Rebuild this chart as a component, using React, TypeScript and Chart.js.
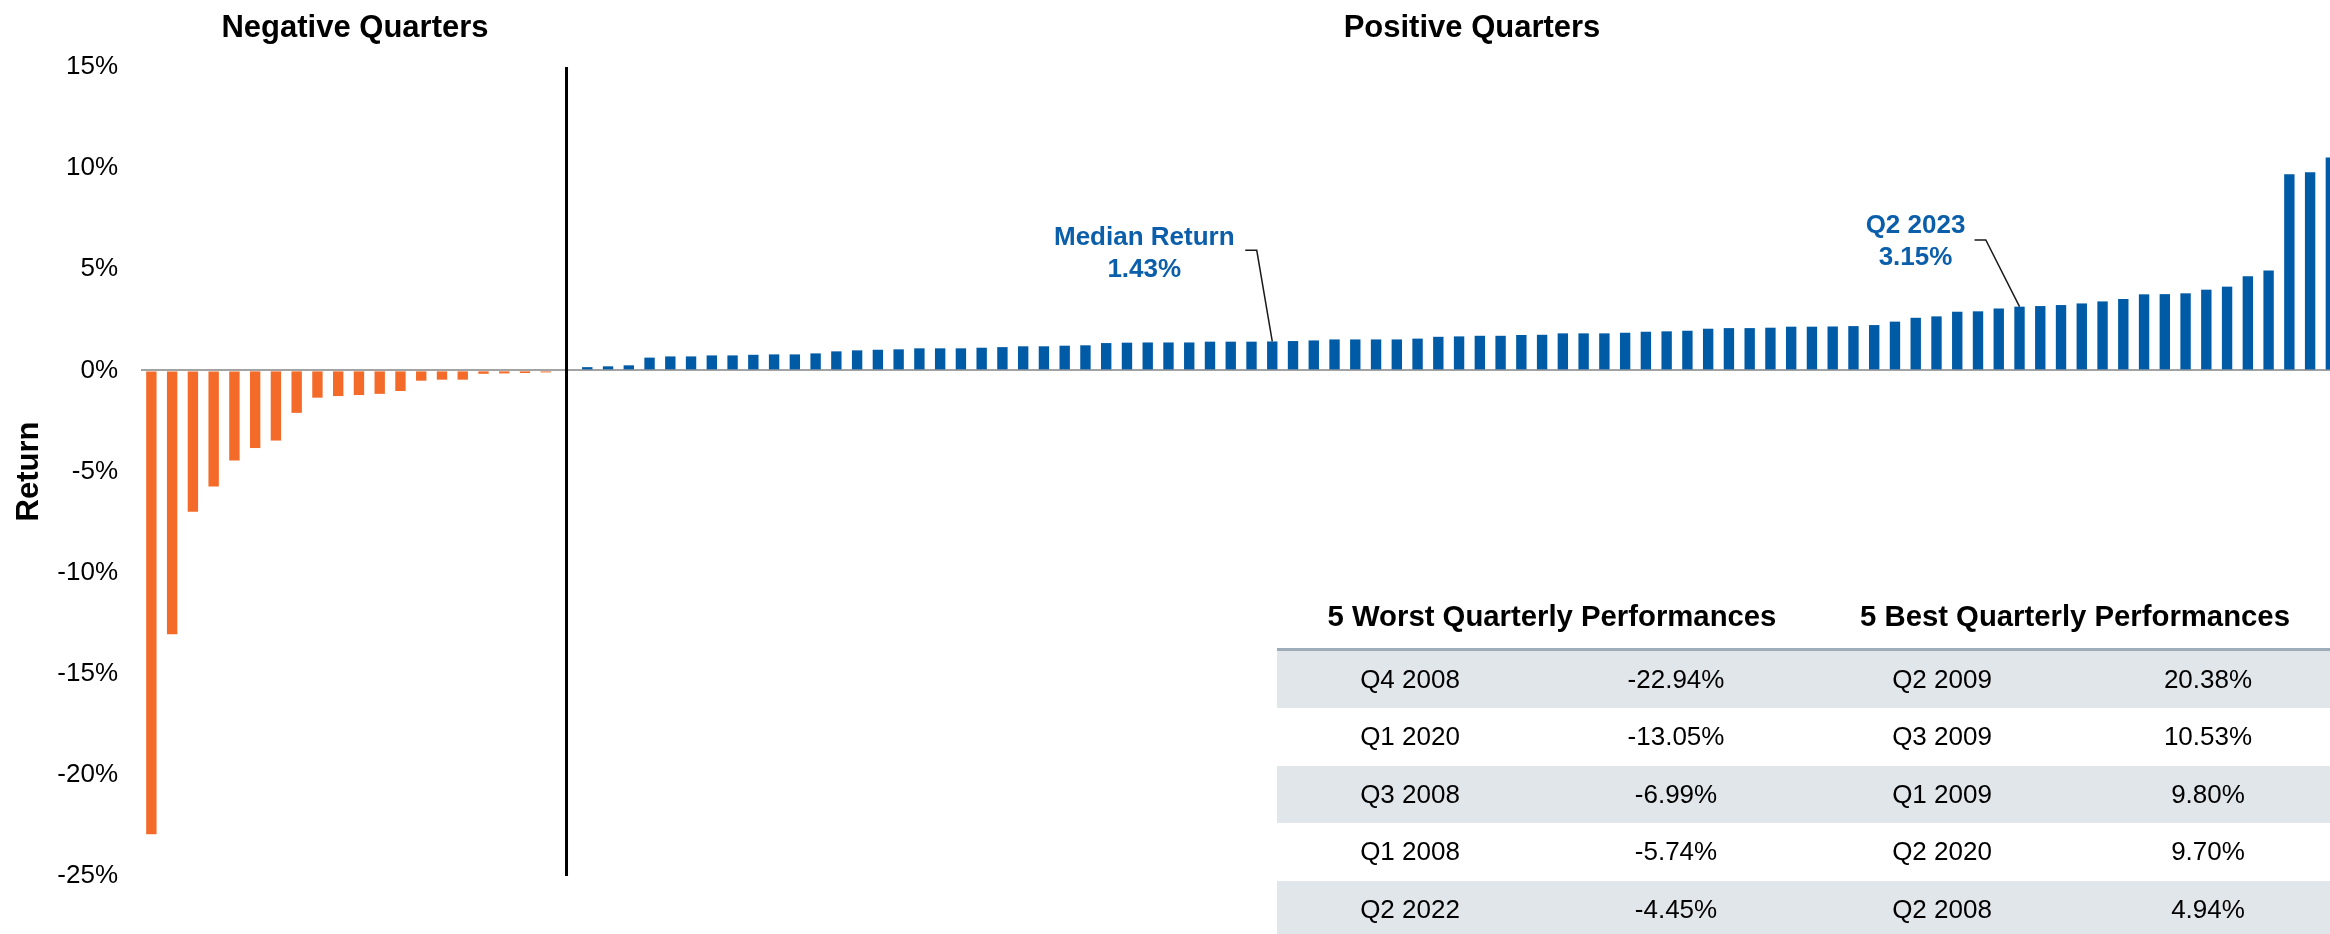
import React, { useEffect, useRef } from 'react';
import { Chart, registerables } from 'chart.js';

Chart.register(...registerables);

// ---- Data ----
const negativeReturns = [
  -22.94, -13.05, -6.99, -5.74, -4.45, -3.84, -3.47, -2.1, -1.35, -1.27,
  -1.22, -1.16, -1.02, -0.51, -0.46, -0.46, -0.17, -0.15, -0.13, -0.1,
];

const positiveReturns = [
  0.16, 0.2, 0.25, 0.63, 0.69, 0.69, 0.74, 0.74, 0.77, 0.79,
  0.79, 0.84, 0.94, 0.99, 1.02, 1.04, 1.09, 1.09, 1.09, 1.12,
  1.15, 1.19, 1.19, 1.22, 1.24, 1.35, 1.37, 1.38, 1.38, 1.38,
  1.42, 1.42, 1.42, 1.43, 1.45, 1.48, 1.53, 1.53, 1.53, 1.53,
  1.57, 1.66, 1.68, 1.71, 1.71, 1.75, 1.76, 1.83, 1.83, 1.83,
  1.86, 1.91, 1.93, 1.96, 2.06, 2.09, 2.09, 2.11, 2.16, 2.16,
  2.17, 2.19, 2.24, 2.41, 2.6, 2.67, 2.9, 2.92, 3.06, 3.15,
  3.18, 3.23, 3.31, 3.41, 3.53, 3.76, 3.77, 3.81, 3.99, 4.14,
  4.65, 4.94, 9.7, 9.8, 10.53, 20.38,
];

const negativeLabels = negativeReturns.map((_, i) => `Negative quarter ${i + 1}`);
const positiveLabels = positiveReturns.map((_, i) => `Positive quarter ${i + 1}`);
const categories = [...negativeLabels, '', ...positiveLabels];

const yTickValues = [-25, -20, -15, -10, -5, 0, 5, 10, 15];

const worstQuarters = ['Q4 2008', 'Q1 2020', 'Q3 2008', 'Q1 2008', 'Q2 2022'];
const worstReturns = ['-22.94%', '-13.05%', '-6.99%', '-5.74%', '-4.45%'];
const bestQuarters = ['Q2 2009', 'Q3 2009', 'Q1 2009', 'Q2 2020', 'Q2 2008'];
const bestReturns = ['20.38%', '10.53%', '9.80%', '9.70%', '4.94%'];

const calloutTitles = ['Median Return', 'Q2 2023'];
const calloutValues = [1.43, 3.15];

// ---- Styles ----
const FONT = '"Liberation Sans", Arial, Helvetica, sans-serif';
const ORANGE = '#F36A29';
const BLUE = '#005BA6';
const CALLOUT_BLUE = '#0B5EAA';

const calloutStyle = [
  { textDx: -128, line1Y: 245, line2Y: 276.7, elbowY: 250.3, startDx: -27, elbowDx: -15.5 },
  { textDx: -104, line1Y: 233.3, line2Y: 265, elbowY: 240, startDx: -45, elbowDx: -33.7 },
];

const overlayPlugin = {
  id: 'overlay',
  afterDatasetsDraw(chart: any) {
    const { ctx, chartArea, scales } = chart;
    const xs = scales.x;
    const ys = scales.y;
    ctx.save();
    // separator line at the gap category
    const sepX = xs.getPixelForValue(negativeReturns.length);
    ctx.strokeStyle = '#000';
    ctx.lineWidth = 3;
    ctx.beginPath();
    ctx.moveTo(sepX, chartArea.top);
    ctx.lineTo(sepX, chartArea.bottom);
    ctx.stroke();

    // callouts
    calloutValues.forEach((val, k) => {
      const idx = negativeReturns.length + 1 + positiveReturns.indexOf(val);
      const bx = xs.getPixelForValue(idx);
      const by = ys.getPixelForValue(val);
      const st = calloutStyle[k];
      ctx.strokeStyle = '#1a1a1a';
      ctx.lineWidth = 1.5;
      ctx.beginPath();
      ctx.moveTo(bx + st.startDx, st.elbowY);
      ctx.lineTo(bx + st.elbowDx, st.elbowY);
      ctx.lineTo(bx, by);
      ctx.stroke();
      ctx.fillStyle = CALLOUT_BLUE;
      ctx.font = `bold 26px ${FONT}`;
      ctx.textAlign = 'center';
      ctx.textBaseline = 'alphabetic';
      ctx.fillText(calloutTitles[k], bx + st.textDx, st.line1Y);
      ctx.fillText(`${val.toFixed(2)}%`, bx + st.textDx, st.line2Y);
    });
    ctx.restore();
  },
};

export default function App() {
  const canvasRef = useRef<HTMLCanvasElement | null>(null);

  useEffect(() => {
    const canvas = canvasRef.current;
    if (!canvas) return;
    const values = [...negativeReturns, null, ...positiveReturns];
    const colors = values.map((v) => (v == null ? 'rgba(0,0,0,0)' : v < 0 ? ORANGE : BLUE));
    const chart = new Chart(canvas, {
      type: 'bar',
      data: {
        labels: categories,
        datasets: [
          {
            data: values as any,
            backgroundColor: colors,
            barPercentage: 0.5,
            categoryPercentage: 1,
          },
        ],
      },
      options: {
        animation: false,
        responsive: false,
        maintainAspectRatio: false,
        layout: { padding: { top: 67, bottom: 58, left: 0, right: 0 } },
        plugins: {
          legend: { display: false },
          tooltip: { enabled: false },
        },
        scales: {
          x: { display: false, offset: true },
          y: {
            min: -25,
            max: 15,
            afterBuildTicks: (scale: any) => {
              scale.ticks = yTickValues.map((v) => ({ value: v }));
            },
            ticks: {
              callback: (v: any) => `${v}%`,
              font: { family: FONT, size: 26 },
              color: '#000',
              padding: 23,
            },
            grid: {
              drawTicks: false,
              color: (c: any) => (c.tick && c.tick.value === 0 ? '#a3a3a3' : 'rgba(0,0,0,0)'),
              lineWidth: 2,
            },
            border: { display: false },
            title: {
              display: true,
              text: 'Return',
              color: '#000',
              font: { family: FONT, size: 31, weight: 'bold' },
              padding: { top: 11, bottom: 0 },
            },
            afterFit: (scale: any) => {
              scale.width = 141;
            },
          },
        },
      },
      plugins: [overlayPlugin],
    } as any);
    return () => chart.destroy();
  }, []);

  const titleStyle = (cx: number): React.CSSProperties => ({
    position: 'absolute',
    left: cx - 300,
    top: 7,
    width: 600,
    textAlign: 'center',
    fontFamily: FONT,
    fontWeight: 'bold',
    fontSize: 31,
    lineHeight: '40px',
    color: '#000',
  });

  const colW = 266;
  const tableLeft = 1277;
  const rowH = 57.6;
  const rowTop = 650.6;

  return (
    <div
      style={{
        position: 'absolute',
        left: 0,
        top: 0,
        width: 2330,
        height: 934,
        overflow: 'hidden',
        background: '#fff',
      }}
    >
      <canvas
        ref={canvasRef}
        width={2362}
        height={934}
        style={{ position: 'absolute', left: 0, top: 0, width: 2362, height: 934 }}
      />
      <div style={titleStyle(355)}>Negative Quarters</div>
      <div style={titleStyle(1472)}>Positive Quarters</div>

      {/* table */}
      <div style={{ position: 'absolute', left: tableLeft, top: 0, width: colW * 4, height: 934, fontFamily: FONT, color: '#000' }}>
        <div
          style={{
            position: 'absolute', left: 9, top: 596, width: colW * 2, height: 40,
            lineHeight: '40px', textAlign: 'center', fontWeight: 'bold', fontSize: 29.3,
          }}
        >
          5 Worst Quarterly Performances
        </div>
        <div
          style={{
            position: 'absolute', left: colW * 2, top: 596, width: colW * 2, height: 40,
            lineHeight: '40px', textAlign: 'center', fontWeight: 'bold', fontSize: 29.3,
          }}
        >
          5 Best Quarterly Performances
        </div>
        <div style={{ position: 'absolute', left: 0, top: 648, width: colW * 4, height: 2.6, background: '#9eabb8' }} />
        {worstQuarters.map((q, i) => {
          const cells = [q, worstReturns[i], bestQuarters[i], bestReturns[i]];
          return (
            <div
              key={q + i}
              style={{
                position: 'absolute', left: 0, top: rowTop + i * rowH, width: colW * 4,
                height: i === 4 ? 934 - (rowTop + i * rowH) : rowH,
                background: i % 2 === 0 ? '#e1e6eb' : '#fff',
              }}
            >
              {cells.map((c, j) => (
                <div
                  key={j}
                  style={{
                    position: 'absolute', left: j * colW, top: 0, width: colW, height: rowH,
                    lineHeight: `${rowH}px`, textAlign: 'center', fontSize: 26,
                  }}
                >
                  {c}
                </div>
              ))}
            </div>
          );
        })}
      </div>
    </div>
  );
}
